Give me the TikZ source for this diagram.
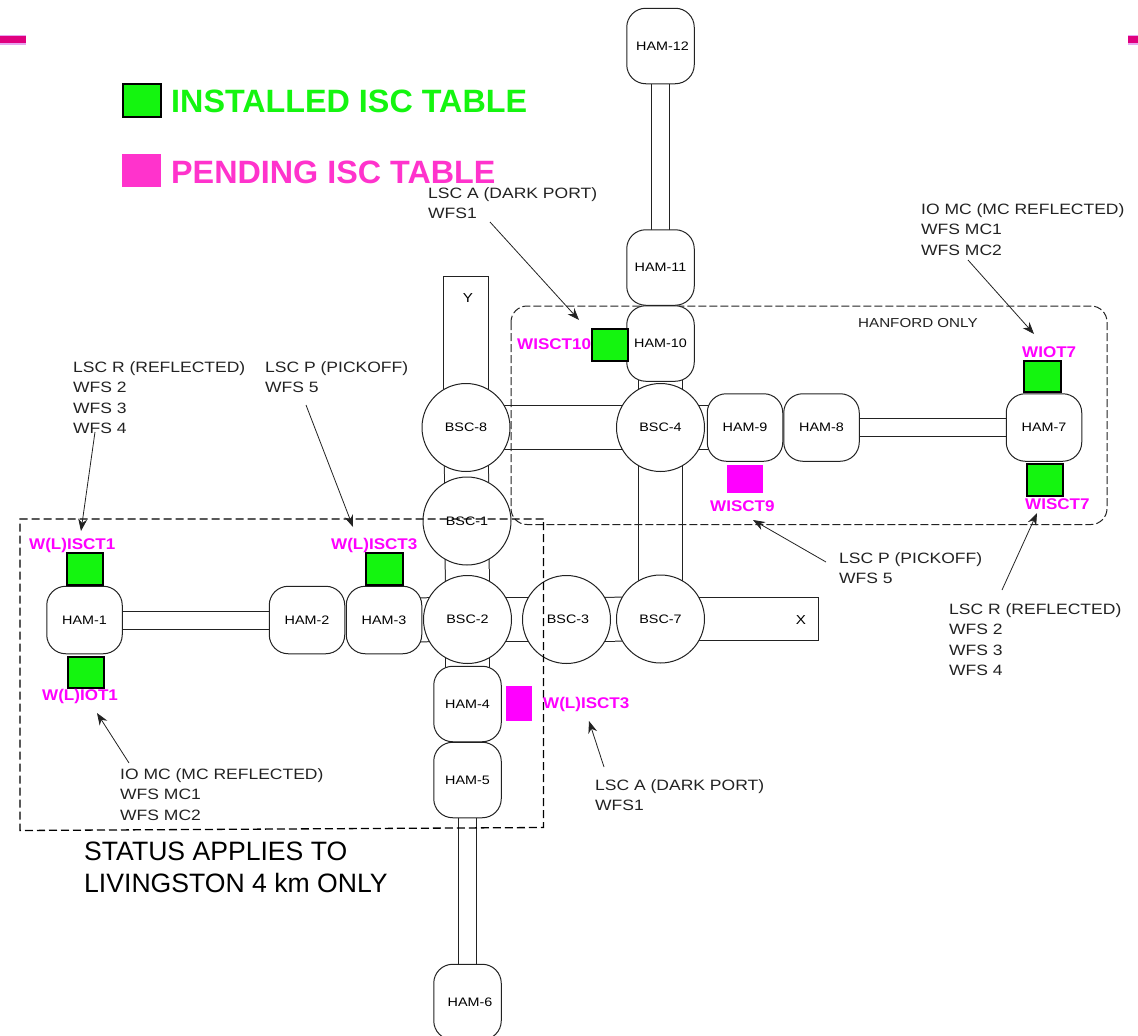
\documentclass[tikz,border=0pt]{standalone}
\usepackage{fontspec}
\setmainfont{Liberation Sans}
\newfontfamily\widefont[FakeStretch=1.167]{Liberation Sans}
\newfontfamily\widebold[FakeStretch=1.1]{Liberation Sans Bold}
\usetikzlibrary{arrows.meta}
\pgfdeclarelayer{background}
\pgfsetlayers{background,main}
\definecolor{lineink}{HTML}{222222}
\definecolor{tablegreen}{HTML}{14F50F}
\definecolor{tablepink}{HTML}{FF33CC}
\definecolor{labelmag}{HTML}{FF00FF}
\definecolor{barcore}{HTML}{E0007F}
\definecolor{barhalo}{HTML}{E6A6F0}
\tikzset{
  chamber/.style={draw=lineink,fill=white,line width=1pt,inner sep=0pt,font=\widefont\fontsize{12.3}{14}\selectfont},
  bsc/.style={chamber,circle,minimum size=88pt},
  hamh/.style={chamber,rectangle,rounded corners=19pt,minimum width=75.5pt,minimum height=67.5pt},
  hamv/.style={chamber,rectangle,rounded corners=19pt,minimum width=67.5pt,minimum height=75.5pt},
  arm/.style={draw=lineink,fill=white,line width=1pt,rectangle,inner sep=0pt},
  armlabel/.style={font=\widefont\fontsize{13}{15}\selectfont,inner sep=0pt},
  bigtube/.style={draw=lineink,line width=1pt,double=white,double distance=43pt},
  smalltube/.style={draw=lineink,line width=1pt,double=white,double distance=17pt},
  installed/.style={draw=black,fill=tablegreen,line width=2pt,rectangle,inner sep=0pt,minimum width=36.5pt,minimum height=31.5pt},
  pending/.style={fill=tablepink,rectangle,inner sep=0pt},
  pendingmag/.style={fill=labelmag,rectangle,inner sep=0pt},
  maglabel/.style={text=labelmag,font=\widebold\fontsize{15.5}{16}\selectfont,inner sep=0pt,anchor=west},
  note/.style={text=lineink,font=\widefont\fontsize{15}{20.3}\selectfont,align=left,inner sep=0pt,anchor=north west},
  smallnote/.style={text=lineink,font=\widefont\fontsize{13}{15}\selectfont,inner sep=0pt,anchor=north west},
  notearrow/.style={draw=lineink,line width=0.8pt,-{Stealth[length=12pt,width=9pt]}},
  bigtext/.style={font=\bfseries\fontsize{32.3}{34}\selectfont,inner sep=0pt,anchor=west},
  statustext/.style={text=black,font=\fontsize{26.6}{32}\selectfont,align=left,inner sep=0pt,anchor=north west},
}
\begin{document}
\begin{tikzpicture}[x=1pt,y=-1pt]
\useasboundingbox (0,0) rectangle (1138,1036);

% corner bars
\fill[barhalo] (0,34.5) rectangle (25.5,45);
\fill[barcore] (0,36) rectangle (25.5,43);
\fill[barhalo] (1128,34.5) rectangle (1138,45);
\fill[barcore] (1128,36) rectangle (1138,43);

% chambers
\node[bsc] (bsc8) at (466,427.5) {BSC-8};
\node[bsc] (bsc4) at (660.5,427.5) {BSC-4};
\node[bsc] (bsc1) at (467,521) {BSC-1};
\node[bsc] (bsc2) at (467.5,619.5) {BSC-2};
\node[bsc] (bsc3) at (566.5,619.5) {\hspace*{3pt}BSC-3};
\node[bsc] (bsc7) at (660.5,619) {BSC-7};
\node[hamh] (ham1) at (84.5,620) {HAM-1};
\node[hamh] (ham2) at (307,620) {HAM-2};
\node[hamh] (ham3) at (384,620) {HAM-3};
\node[hamv] (ham4) at (467.5,704) {HAM-4};
\node[hamv] (ham5) at (467.5,780) {HAM-5};
\node[hamv] (ham6) at (467.5,1002) {\hspace*{5pt}HAM-6};
\node[hamh] (ham7) at (1044,427.5) {HAM-7};
\node[hamh] (ham8) at (821.5,427.5) {HAM-8};
\node[hamh] (ham9) at (745,427.5) {HAM-9};
\node[hamv] (ham10) at (660.5,343.5) {HAM-10};
\node[hamv] (ham11) at (660.5,267.5) {HAM-11};
\node[hamv] (ham12) at (660.5,46) {\hspace*{4pt}HAM-12};

% beam tubes, arms and the Hanford outline lie behind the chambers
\begin{pgfonlayer}{background}
  \node[arm,minimum width=45pt,minimum height=151pt] (yarm) at (466,351.5) {};
  \node[arm,minimum width=158pt,minimum height=43pt] (xarm) at (739.5,619) {};
  \draw[bigtube] (bsc8.center) -- (bsc4.center);
  \draw[bigtube] (bsc8.center) -- (bsc1.center);
  \draw[bigtube] (bsc1.center) -- (bsc2.center);
  \draw[bigtube] (bsc2.center) -- (ham4.center);
  \draw[bigtube] (ham3.center) -- (bsc2.center);
  \draw[bigtube] (bsc2.center) -- (bsc3.center);
  \draw[bigtube] (bsc3.center) -- (bsc7.center);
  \draw[bigtube] (bsc4.center) -- (bsc7.center);
  \draw[bigtube] (ham10.center) -- (bsc4.center);
  \draw[bigtube] (bsc4.center) -- (ham9.center);
  \draw[smalltube] (ham1.center) -- (ham2.center);
  \draw[smalltube] (ham8.center) -- (ham7.center);
  \draw[smalltube] (ham11.center) -- (ham12.center);
  \draw[smalltube] (ham5.center) -- (ham6.center);
  \draw[draw=lineink,line width=1pt,dash pattern=on 8pt off 3pt,rounded corners=16pt]
    (511,306) rectangle (1107,524.5);
\end{pgfonlayer}
\node[armlabel] (ylab) at (468,298) {Y};
\node[armlabel] (xlab) at (801,620) {X};

% Livingston outline
\draw[draw=black,line width=1.3pt,dash pattern=on 8pt off 4pt]
  (543.5,519) -- (20,519) -- (20,830.5) -- (543.5,827.5) -- cycle;

% tables
\node[installed] (t1) at (85,569) {};
\node[installed] (t2) at (86,672.5) {};
\node[installed] (t3) at (384.5,569) {};
\node[installed] (t4) at (1042.5,376.5) {};
\node[installed] (t5) at (1045,480) {};
\node[installed] (t6) at (610,345) {};
\node[pendingmag,minimum width=36pt,minimum height=28pt] (p1) at (745,479) {};
\node[pendingmag,minimum width=26.5pt,minimum height=35.5pt] (p2) at (519,703.5) {};

% table labels
\node[maglabel] (l1) at (29,545.5) {W(L)ISCT1};
\node[maglabel] (l2) at (331,545.5) {W(L)ISCT3};
\node[maglabel] (l3) at (42,696.5) {W(L)IOT1};
\node[maglabel] (l4) at (543,704.5) {W(L)ISCT3};
\node[maglabel] (l5) at (517,344.5) {WISCT10};
\node[maglabel] (l6) at (1022,352.5) {WIOT7};
\node[maglabel] (l7) at (1025,504.5) {WISCT7};
\node[maglabel] (l8) at (710,506.5) {WISCT9};

% legend
\node[installed,minimum width=38pt,minimum height=33pt] (leg1) at (141.5,100) {};
\node[pending,minimum width=39pt,minimum height=33pt] (leg2) at (141.5,170) {};
\node[bigtext,text=tablegreen] (leg1t) at (171,101) {INSTALLED ISC TABLE};
\node[bigtext,text=tablepink] (leg2t) at (171,172) {PENDING ISC TABLE};

% notes
\node[note] (n1) at (428,187.5) {LSC A (DARK PORT)\\WFS1};
\node[note] (n2) at (921,203.5) {IO MC (MC REFLECTED)\\WFS MC1\\WFS MC2};
\node[smallnote] (n3) at (858,318) {HANFORD ONLY};
\node[note] (n4) at (73,361.5) {LSC R (REFLECTED)\\WFS 2\\WFS 3\\WFS 4};
\node[note] (n5) at (265,361.5) {LSC P (PICKOFF)\\WFS 5};
\node[note] (n6) at (839,552.5) {LSC P (PICKOFF)\\WFS 5};
\node[note] (n7) at (949,603.5) {LSC R (REFLECTED)\\WFS 2\\WFS 3\\WFS 4};
\node[note] (n8) at (120,768.5) {IO MC (MC REFLECTED)\\WFS MC1\\WFS MC2};
\node[note] (n9) at (595,779.5) {LSC A (DARK PORT)\\WFS1};
\node[statustext] (status) at (84,842) {STATUS APPLIES TO\\LIVINGSTON 4 km ONLY};

% pointers
\coordinate (a1s) at (490,222); \coordinate (a1e) at (579,320);
\coordinate (a2s) at (968,260); \coordinate (a2e) at (1034,334);
\coordinate (a3s) at (95,432);  \coordinate (a3e) at (81,531);
\coordinate (a4s) at (306,405); \coordinate (a4e) at (353,527);
\coordinate (a5s) at (1002,590); \coordinate (a5e) at (1037,513);
\coordinate (a6s) at (826,562); \coordinate (a6e) at (753,520);
\coordinate (a7s) at (129,763); \coordinate (a7e) at (97,713);
\coordinate (a8s) at (604,767); \coordinate (a8e) at (589,721);
\draw[notearrow] (a1s) -- (a1e);
\draw[notearrow] (a2s) -- (a2e);
\draw[notearrow] (a3s) -- (a3e);
\draw[notearrow] (a4s) -- (a4e);
\draw[notearrow] (a5s) -- (a5e);
\draw[notearrow] (a6s) -- (a6e);
\draw[notearrow] (a7s) -- (a7e);
\draw[notearrow] (a8s) -- (a8e);
\end{tikzpicture}
\end{document}
